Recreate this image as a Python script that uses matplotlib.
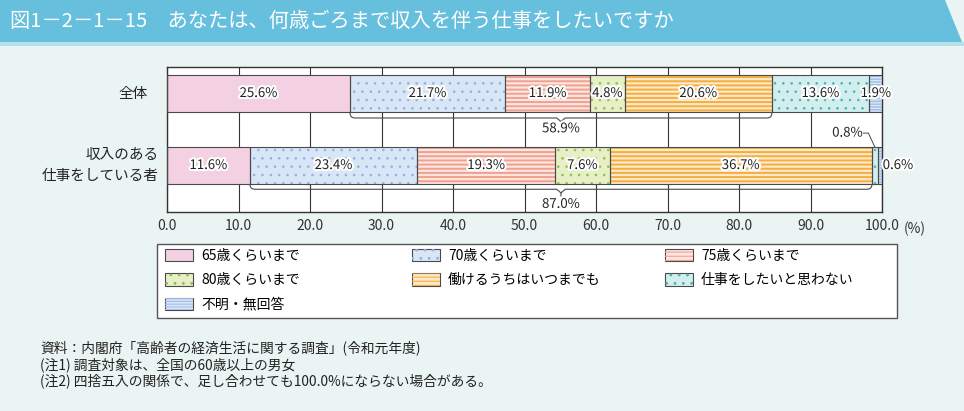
import matplotlib
matplotlib.use("Agg")
import matplotlib.pyplot as plt
from matplotlib.patches import Patch, Polygon, Rectangle
from matplotlib.path import Path
from matplotlib.patches import PathPatch
from matplotlib.legend_handler import HandlerTuple
import matplotlib.patheffects as pe

plt.rcParams['font.family'] = ['Noto Sans CJK JP', 'DejaVu Sans']

# ---------------- data ----------------
categories = ['全体', '収入のある\n仕事をしている者']
series_names = ['65歳くらいまで', '70歳くらいまで', '75歳くらいまで', '80歳くらいまで',
                '働けるうちはいつまでも', '仕事をしたいと思わない', '不明・無回答']
values_all = [25.6, 21.7, 11.9, 4.8, 20.6, 13.6, 1.9]
values_working = [11.6, 23.4, 19.3, 7.6, 36.7, 0.8, 0.6]
bracket_totals = ['58.9%', '87.0%']
xticks = [0, 10, 20, 30, 40, 50, 60, 70, 80, 90, 100]
title = '図1－2－1－15　あなたは、何歳ごろまで収入を伴う仕事をしたいですか'
notes = ['資料：内閣府「高齢者の経済生活に関する調査」(令和元年度)',
         '(注1) 調査対象は、全国の60歳以上の男女',
         '(注2) 四捨五入の関係で、足し合わせても100.0%にならない場合がある。']

# styles: (face, hatch colour, hatch, hatch linewidth)
styles = [
    ('#f3d1e2', None, None, 0),
    ('#d8e6f5', '#8fb2e3', '..', 0.6),
    ('#fde6e0', '#f0a090', '----', 1.4),
    ('#e6efc6', '#8cc04a', '..', 0.6),
    ('#fde9cc', '#f5ae3c', '----', 1.4),
    ('#d3eeee', '#45b5b0', '..', 0.6),
    ('#dce8f8', '#9dbde8', '------', 1.0),
]
EDGE = '#4a4a4a'
BG = '#eaf4f2'

fig = plt.figure(figsize=(9.64, 4.11), dpi=100, facecolor=BG)

# title banner
banner = Polygon([(0, 1 - 42 / 411), (0, 1.0), (945 / 964, 1.0), (962 / 964, 1 - 42 / 411)],
                 closed=True, transform=fig.transFigure, facecolor='#66c0dd',
                 edgecolor='none', zorder=0)
fig.patches.append(banner)
strip = Rectangle((0, 1 - 46 / 411), 1, 4 / 411, transform=fig.transFigure,
                  facecolor='#b5e0ec', edgecolor='none', zorder=0)
fig.patches.append(strip)
fig.text(10 / 964, 1 - 21 / 411, title, color='white', fontsize=14.6,
         va='center', ha='left')

ax = fig.add_axes([167 / 964, 1 - 212 / 411, 715 / 964, 145 / 411])
ax.set_facecolor('white')


def set_hlw(patches, lw):
    for p in patches:
        if hasattr(p, 'set_hatch_linewidth'):
            p.set_hatch_linewidth(lw)
        else:
            p._hatch_linewidth = lw


ypos = [0, 1]
h = 37 / 72
for yi, vals in zip(ypos, [values_all, values_working]):
    left = 0
    for j, v in enumerate(vals):
        face, hc, hatch, hlw = styles[j]
        ax.barh(yi, v, left=left, height=h, color=face, edgecolor='none', zorder=2)
        if hatch:
            plt.rcParams['hatch.linewidth'] = hlw
            bc = ax.barh(yi, v, left=left, height=h, color='none', edgecolor=hc,
                         hatch=hatch, linewidth=0, zorder=3)
            set_hlw(bc.patches, hlw)
        ax.barh(yi, v, left=left, height=h, color='none', edgecolor=EDGE,
                linewidth=0.8, zorder=4)
        left += v

stroke = [pe.withStroke(linewidth=3, foreground='white')]


def label(x, y, s, ha='center'):
    ax.text(x, y, s, ha=ha, va='center', fontsize=9.5, color='#222',
            path_effects=stroke, zorder=6)


left = 0
for v in values_all:
    label(left + v / 2, 0, f'{v:.1f}%')
    left += v
left = 0
for j, v in enumerate(values_working):
    if j < 5:
        label(left + v / 2, 1, f'{v:.1f}%')
    left += v
x08 = sum(values_working[:5]) + values_working[5] / 2
ax.text(x08 - 1.7, 1 - 0.45, f'{values_working[5]:.1f}%', ha='right', va='center',
        fontsize=9.5, color='#222', path_effects=stroke, zorder=6)
ax.plot([x08 - 1.6, x08 - 0.9, x08], [1 - 0.45, 1 - 0.45, 1 - h / 2],
        color=EDGE, lw=0.7, zorder=6, clip_on=False)
ax.text(100 + 0.1, 1, f'{values_working[6]:.1f}%', ha='left', va='center',
        fontsize=9.5, color='#222', path_effects=stroke, zorder=6, clip_on=False)


def bracket(x0, x1, ycen, ybot, text, ytext):
    ytop = ycen + h / 2
    rx, ry = 0.7, 0.07
    xm = (x0 + x1) / 2
    verts = [(x0, ytop), (x0, ybot - ry), (x0, ybot), (x0 + rx, ybot),
             (xm - 0.6, ybot), (xm, ybot + 0.05), (xm, ybot + 0.1),
             (xm, ybot + 0.05), (xm + 0.6, ybot),
             (x1 - rx, ybot), (x1, ybot), (x1, ybot - ry), (x1, ytop)]
    codes = [Path.MOVETO, Path.LINETO, Path.CURVE3, Path.CURVE3,
             Path.LINETO, Path.LINETO, Path.LINETO,
             Path.MOVETO, Path.LINETO,
             Path.LINETO, Path.CURVE3, Path.CURVE3, Path.LINETO]
    ax.add_patch(PathPatch(Path(verts, codes), facecolor='none', edgecolor=EDGE,
                           lw=0.8, zorder=5))
    ax.text(xm, ytext, text, ha='center', va='center', fontsize=9.5, color='#222',
            path_effects=stroke, zorder=6)


b0 = values_all[0]
b1 = sum(values_all[:5])
bracket(b0, b1, 0, 0.34, bracket_totals[0], 0.49)
w0 = values_working[0]
w1 = sum(values_working[:5])
bracket(w0, w1, 1, 1.33, bracket_totals[1], 1.54)

ax.set_xlim(0, 100)
ax.set_ylim(1 + 46.5 / 72, -26.5 / 72)
ax.set_xticks(xticks)
ax.set_xticklabels([f'{t:.1f}' for t in xticks], fontsize=10, color='#333')
ax.tick_params(axis='x', length=0, pad=5)
ax.set_yticks([])
ax.grid(axis='x', color='#333', lw=0.8)
ax.set_axisbelow(True)
for s in ax.spines.values():
    s.set_color('#333')
    s.set_linewidth(1.0)
ax.annotate('(%)', xy=(1, 0), xycoords='axes fraction', xytext=(16, -12),
            textcoords='offset points', ha='left', va='center', fontsize=10, color='#333')

ax.annotate(categories[0], xy=(0, ypos[0]), xycoords=('axes fraction', 'data'),
            xytext=(-14, 0), textcoords='offset points', ha='right', va='center',
            fontsize=10.5, color='#222')
ax.annotate(categories[1], xy=(0, ypos[1]), xycoords=('axes fraction', 'data'),
            xytext=(-6, 0), textcoords='offset points', ha='right', va='center',
            fontsize=10.5, color='#222', linespacing=1.6, multialignment='right')

# legend: three columns
handles = []
for face, hc, hatch, hlw in styles:
    base = Patch(facecolor=face, edgecolor=EDGE, linewidth=0.8)
    if hatch:
        plt.rcParams['hatch.linewidth'] = hlw
        hp = Patch(facecolor='none', edgecolor=hc, hatch=hatch, linewidth=0)
        set_hlw([hp], hlw)
        handles.append((base, hp))
    else:
        handles.append((base,))

plt.rcParams['hatch.linewidth'] = 0.8
frame = Rectangle((157 / 964, 1 - 318 / 411), 740 / 964, 74 / 411,
                  transform=fig.transFigure, facecolor='white', edgecolor='#555',
                  linewidth=1.0, zorder=1)
fig.patches.append(frame)
columns = [[0, 3, 6], [1, 4], [2, 5]]
col_x = [162, 409, 662]
for cx, idx in zip(col_x, columns):
    lg = fig.legend([handles[i] for i in idx], [series_names[i] for i in idx],
                    handler_map={tuple: HandlerTuple(ndivide=1)},
                    loc='upper left', bbox_to_anchor=(cx / 964, 1 - 246 / 411),
                    borderaxespad=0, frameon=False, fontsize=10,
                    handlelength=2.0, handleheight=1.0, labelspacing=0.75,
                    handletextpad=0.6, borderpad=0.2)
    lg.set_zorder(2)

for i, n in enumerate(notes):
    fig.text(40 / 964, 1 - (348 + 16.5 * i) / 411, n, fontsize=9.9, color='#222',
             ha='left', va='center')

fig.savefig('out.png', dpi=100, facecolor=BG)
